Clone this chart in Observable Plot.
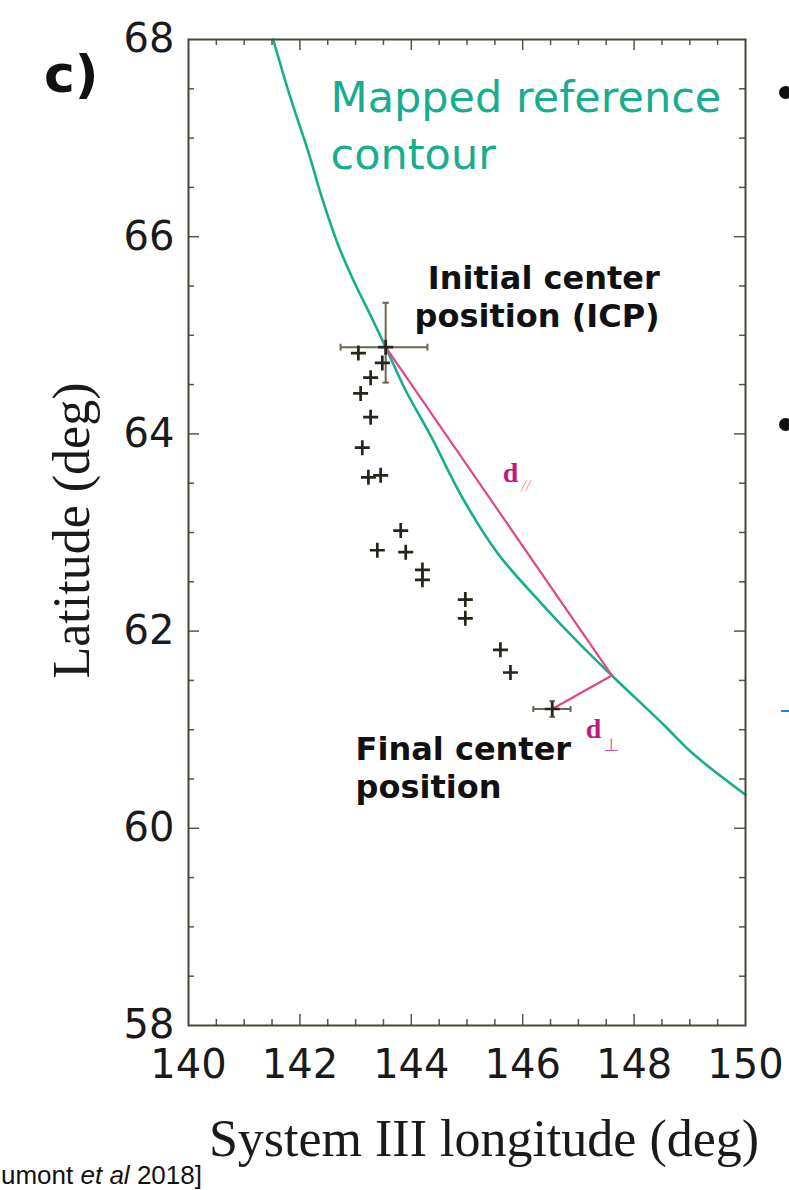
<!DOCTYPE html>
<html><head><meta charset="utf-8">
<script src="https://cdn.jsdelivr.net/npm/d3@7"></script>
<script src="https://cdn.jsdelivr.net/npm/@observablehq/plot@0.6"></script>
<style>
html,body{margin:0;padding:0;background:#fff;}
#wrap{position:relative;width:789px;height:1190px;overflow:hidden;background:#fff;}
.panel{position:absolute;left:44px;top:48px;font:bold 52px "DejaVu Sans";line-height:1;color:#111;}
.bullet{position:absolute;width:13px;height:13px;border-radius:50%;background:#111;}
.dash{position:absolute;left:781px;top:710px;width:9px;height:2px;background:#2a7fd0;}
.cap{position:absolute;left:1px;top:1162px;font:26px "Liberation Sans";line-height:1;color:#111;white-space:nowrap;}
</style></head>
<body><div id="wrap"></div>
<script>
// Tick labels
const xTicks = [140, 142, 144, 146, 148, 150];
const yTicks = [58, 60, 62, 64, 66, 68];

// Mapped reference contour (teal)
const contourLon = [141.52, 141.83, 142.14, 142.41, 142.69, 143.00, 143.27, 143.54, 143.90, 144.34, 144.92, 145.55, 146.32, 147.04, 147.60, 148.53, 149.07, 150.00];
const contourLat = [68.00, 67.41, 66.88, 66.37, 65.91, 65.51, 65.20, 64.88, 64.44, 63.99, 63.35, 62.79, 62.29, 61.86, 61.55, 61.05, 60.75, 60.34];

// Intermediate center positions (crosses)
const pointLon = [143.05, 143.48, 143.27, 143.09, 143.27, 143.12, 143.23, 143.45, 143.39, 143.81, 143.90, 144.20, 144.20, 144.97, 144.97, 145.60, 145.78];
const pointLat = [64.82, 64.72, 64.57, 64.41, 64.17, 63.86, 63.56, 63.58, 62.82, 63.02, 62.80, 62.62, 62.52, 62.32, 62.13, 61.81, 61.58];

// Initial and final center positions with error ranges
const centerName = ["ICP", "Final"];
const centerLon = [143.54, 146.53];
const centerLat = [64.88, 61.21];
const centerLonLo = [142.73, 146.19];
const centerLonHi = [144.29, 146.86];
const centerLatLo = [64.52, 61.13];
const centerLatHi = [65.33, 61.29];

// Distance construction: ICP -> contact on contour -> final center
const distLon = [143.54, 147.60, 146.53];
const distLat = [64.88, 61.55, 61.21];

const contour = contourLon.map((lon, i) => ({lon, lat: contourLat[i]}));
const points = pointLon.map((lon, i) => ({lon, lat: pointLat[i]}));
const centers = centerName.map((name, i) => ({name, lon: centerLon[i], lat: centerLat[i],
  lonLo: centerLonLo[i], lonHi: centerLonHi[i], latLo: centerLatLo[i], latHi: centerLatHi[i]}));
const dist = distLon.map((lon, i) => ({lon, lat: distLat[i]}));

const plusSym = {draw(ctx, size) { const r = Math.sqrt(size / Math.PI); ctx.moveTo(-r, 0); ctx.lineTo(r, 0); ctx.moveTo(0, -r); ctx.lineTo(0, r); }};
const vSym = {draw(ctx, size) { const r = Math.sqrt(size / Math.PI); ctx.moveTo(0, -r); ctx.lineTo(0, r); }};
const hSym = {draw(ctx, size) { const r = Math.sqrt(size / Math.PI); ctx.moveTo(-r, 0); ctx.lineTo(r, 0); }};

const W = 789, H = 1190, mL = 188, mR = 44, mT = 39, mB = 165;
const fw = W - mL - mR, fh = H - mT - mB;
const xMinor = d3.range(140.5, 150, 0.5).filter(v => v % 2 !== 0);
const xMajor = xTicks.slice(1, -1);
const yMinor = d3.range(58.5, 68, 0.5).filter(v => v % 2 !== 0);
const yMajor = yTicks.slice(1, -1);
const tickColor = "#5a5548";
const minorLen = 6, majorLen = 11;

const teal = "#17ae8f", magentaLine = "#e0468c", magentaText = "#c4177b";
const errColor = "#6e6255", crossColor = "#26251c";
const bold = {fill: "#111", fontSize: 32, fontWeight: "bold", fontFamily: "DejaVu Sans", lineHeight: 1.18};

const chart = Plot.plot({
  width: W, height: H,
  marginLeft: mL, marginRight: mR, marginTop: mT, marginBottom: mB,
  style: {fontFamily: "DejaVu Sans", fontSize: "40px", color: "#1a1a1a", background: "#fff"},
  x: {domain: [140, 150], ticks: xTicks, tickSize: 0, tickPadding: 24, label: null, tickFormat: d => String(d)},
  y: {domain: [58, 68], ticks: yTicks, tickSize: 0, tickPadding: 14, label: null, tickFormat: d => String(d)},
  marks: [
    // inward ticks on all four sides
    Plot.ruleX(xMinor, {x: d => d, insetTop: fh - minorLen, stroke: tickColor, strokeWidth: 1.5}),
    Plot.ruleX(xMinor, {x: d => d, insetBottom: fh - minorLen, stroke: tickColor, strokeWidth: 1.5}),
    Plot.ruleX(xMajor, {x: d => d, insetTop: fh - majorLen, stroke: tickColor, strokeWidth: 1.5}),
    Plot.ruleX(xMajor, {x: d => d, insetBottom: fh - majorLen, stroke: tickColor, strokeWidth: 1.5}),
    Plot.ruleY(yMinor, {y: d => d, insetRight: fw - minorLen, stroke: tickColor, strokeWidth: 1.5}),
    Plot.ruleY(yMinor, {y: d => d, insetLeft: fw - minorLen, stroke: tickColor, strokeWidth: 1.5}),
    Plot.ruleY(yMajor, {y: d => d, insetRight: fw - majorLen, stroke: tickColor, strokeWidth: 1.5}),
    Plot.ruleY(yMajor, {y: d => d, insetLeft: fw - majorLen, stroke: tickColor, strokeWidth: 1.5}),

    // contour
    Plot.line(contour, {x: "lon", y: "lat", stroke: teal, strokeWidth: 2.6, curve: "catmull-rom"}),

    // distance lines
    Plot.line(dist, {x: "lon", y: "lat", stroke: magentaLine, strokeWidth: 2.2}),

    // error bars
    Plot.ruleY(centers, {y: "lat", x1: "lonLo", x2: "lonHi", stroke: errColor, strokeWidth: 2}),
    Plot.ruleX(centers, {x: "lon", y1: "latLo", y2: "latHi", stroke: errColor, strokeWidth: 2}),
    Plot.dot(centers, {x: "lonLo", y: "lat", symbol: vSym, r: d => d.name === "ICP" ? 8 : 6, fill: "none", stroke: errColor, strokeWidth: 2}),
    Plot.dot(centers, {x: "lonHi", y: "lat", symbol: vSym, r: d => d.name === "ICP" ? 8 : 6, fill: "none", stroke: errColor, strokeWidth: 2}),
    Plot.dot(centers, {x: "lon", y: "latLo", symbol: hSym, r: d => d.name === "ICP" ? 7 : 5, fill: "none", stroke: errColor, strokeWidth: 2}),
    Plot.dot(centers, {x: "lon", y: "latHi", symbol: hSym, r: d => d.name === "ICP" ? 7 : 5, fill: "none", stroke: errColor, strokeWidth: 2}),

    // crosses
    Plot.dot(points, {x: "lon", y: "lat", symbol: plusSym, r: 7.5, fill: "none", stroke: crossColor, strokeWidth: 2.7}),
    Plot.dot(centers, {x: "lon", y: "lat", symbol: plusSym, r: 7.5, fill: "none", stroke: crossColor, strokeWidth: 2.7}),

    // annotations
    Plot.text(["Mapped reference"], {x: 142.55, y: 67.40, text: d => d, textAnchor: "start", fill: teal, fontSize: 43, fontFamily: "DejaVu Sans"}),
    Plot.text(["contour"], {x: 142.55, y: 66.83, text: d => d, textAnchor: "start", fill: teal, fontSize: 43, fontFamily: "DejaVu Sans"}),
    Plot.text(["Initial center\nposition (ICP)"], {x: 148.46, y: 65.40, text: d => d, textAnchor: "end", lineAnchor: "middle", ...bold}),
    Plot.text(["Final center\nposition"], {x: 143.0, y: 60.625, text: d => d, textAnchor: "start", lineAnchor: "middle", ...bold}),
    Plot.text(["d"], {x: 145.64, y: 63.60, text: d => d, textAnchor: "start", fill: magentaText, fontSize: 28, fontWeight: "bold", fontFamily: "Liberation Serif"}),
    Plot.text(["//"], {x: 145.98, y: 63.47, text: d => d, textAnchor: "start", fill: "#ee7f98", fontSize: 16, fontStyle: "italic", fontFamily: "Liberation Serif"}),
    Plot.text(["d"], {x: 147.13, y: 61.01, text: d => d, textAnchor: "start", fill: magentaText, fontSize: 28, fontWeight: "bold", fontFamily: "Liberation Serif"}),
    Plot.text(["⊥"], {x: 147.45, y: 60.84, text: d => d, textAnchor: "start", fill: "#e0509a", fontSize: 18, fontFamily: "DejaVu Sans"}),

    // axis titles
    Plot.text(["System III longitude (deg)"], {frameAnchor: "bottom", dx: 17, dy: 114, textAnchor: "middle", lineAnchor: "middle", text: d => d, fill: "#1a1a1a", fontSize: 52, fontFamily: "Liberation Serif"}),
    Plot.text(["Latitude (deg)"], {frameAnchor: "left", dx: -116, dy: -2, rotate: -90, textAnchor: "middle", lineAnchor: "middle", text: d => d, fill: "#1a1a1a", fontSize: 52, fontFamily: "Liberation Serif"}),

    Plot.frame({stroke: "#4a4538", strokeWidth: 2})
  ]
});

const wrap = document.getElementById("wrap");
wrap.appendChild(chart);
wrap.insertAdjacentHTML("beforeend",
  '<div class="panel">c)</div>' +
  '<div class="bullet" style="left:779px;top:86px"></div>' +
  '<div class="bullet" style="left:779px;top:418px"></div>' +
  '<div class="dash"></div>' +
  '<div class="cap">umont <i>et al</i> 2018]</div>');
</script>
</body></html>
